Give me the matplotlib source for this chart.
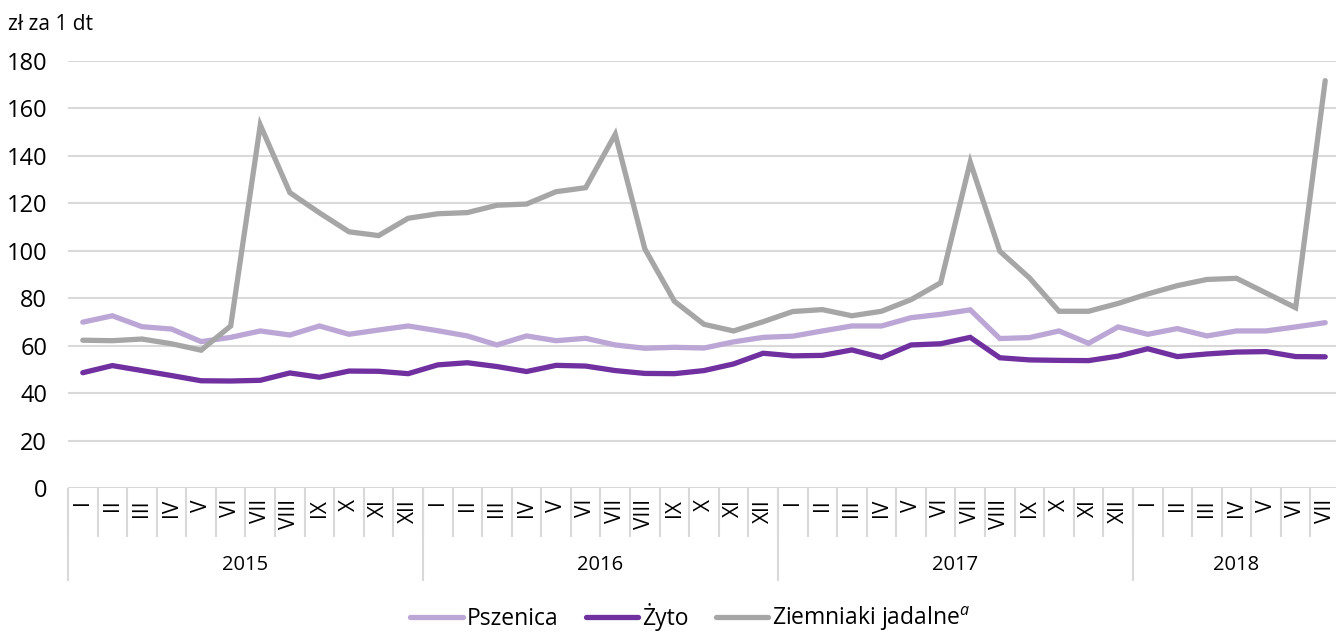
import numpy as np
import matplotlib
matplotlib.use("Agg")
import matplotlib.pyplot as plt

plt.rcParams['font.family'] = ['Open Sans', 'DejaVu Sans']
plt.rcParams['mathtext.fontset'] = 'custom'
plt.rcParams['mathtext.it'] = 'Open Sans:italic'
plt.rcParams['mathtext.rm'] = 'Open Sans'

# monthly prices, zl per dt, I 2015 - VII 2018
pszenica = [69.9, 72.6, 68.0, 67.0, 61.7, 63.5, 66.2, 64.5, 68.3, 64.8, 66.6, 68.3,
            66.3, 64.1, 60.3, 64.1, 62.1, 63.1, 60.3, 58.9, 59.3, 59.0, 61.6, 63.5,
            64.0, 66.2, 68.3, 68.3, 71.8, 73.2, 75.1, 63.0, 63.4, 66.2, 61.0, 67.9,
            64.8, 67.2, 64.1, 66.2, 66.2, 67.9, 69.7]
zyto = [48.6, 51.6, 49.5, 47.4, 45.2, 45.1, 45.4, 48.5, 46.7, 49.3, 49.2, 48.2,
        51.9, 52.8, 51.2, 49.1, 51.7, 51.4, 49.5, 48.3, 48.2, 49.5, 52.3, 56.8,
        55.7, 55.9, 58.2, 55.0, 60.3, 60.8, 63.5, 54.9, 54.0, 53.8, 53.7, 55.6,
        58.7, 55.4, 56.5, 57.3, 57.5, 55.4, 55.3]
ziemniaki = [62.3, 62.1, 62.8, 60.8, 58.1, 68.3, 153.0, 124.5, 116.0, 108.0, 106.4, 113.7,
             115.6, 116.1, 119.2, 119.7, 124.9, 126.6, 149.1, 100.8, 78.7, 69.0, 66.2, 70.1,
             74.4, 75.2, 72.6, 74.5, 79.4, 86.5, 137.4, 99.8, 88.6, 74.5, 74.5, 77.8,
             81.8, 85.3, 87.9, 88.4, 82.2, 76.0, 171.7]

roman = ["I", "II", "III", "IV", "V", "VI", "VII", "VIII", "IX", "X", "XI", "XII"]
years = ["2015", "2016", "2017", "2018"]
months_per_year = [12, 12, 12, 7]
month_labels = [roman[m] for n in months_per_year for m in range(n)]

c_psz = "#BBA6D6"
c_zyto = "#7030A0"
c_ziem = "#A6A6A6"
grid_c = "#D9D9D9"

W, H = 1336, 632
fig = plt.figure(figsize=(W / 100, H / 100), dpi=100)
ax_left, ax_right, ax_top, ax_bot = 68, 1340, 61, 488
ax = fig.add_axes([ax_left / W, 1 - ax_bot / H, (ax_right - ax_left) / W, (ax_bot - ax_top) / H])

x = np.arange(len(pszenica))
ax.plot(x, pszenica, color=c_psz, lw=3.8, solid_capstyle='round', solid_joinstyle='miter', label="Pszenica", zorder=3)
ax.plot(x, zyto, color=c_zyto, lw=3.8, solid_capstyle='round', solid_joinstyle='miter', label="Żyto", zorder=3)
ax.plot(x, ziemniaki, color=c_ziem, lw=3.8, solid_capstyle='round', solid_joinstyle='miter',
        label="Ziemniaki jadalne$^{a}$", zorder=3)

ax.set_xlim(-0.5, len(x) - 0.5)
ax.set_ylim(0, 180)
ax.set_yticks(range(0, 181, 20))
ax.yaxis.grid(True, color=grid_c, lw=1.5)
ax.set_axisbelow(True)
for s in ax.spines.values():
    s.set_visible(False)
ax.tick_params(axis='y', length=0, pad=15, labelsize=17, labelcolor="#000000")

ax.set_xticks(x)
ax.set_xticklabels(month_labels, rotation=90, fontsize=15, va='top')
ax.tick_params(axis='x', length=0, pad=8)

# separators under the axis
axh = ax_bot - ax_top
trans = ax.get_xaxis_transform()
bounds = np.arange(len(x) + 1) - 0.5
ax.vlines(bounds, -49 / axh, 0, color=grid_c, lw=1.5, transform=trans, clip_on=False)
starts = np.concatenate([[0], np.cumsum(months_per_year)]) - 0.5
ax.vlines(starts, -93 / axh, 0, color=grid_c, lw=1.5, transform=trans, clip_on=False)
for i, yr in enumerate(years):
    mid = (starts[i] + starts[i + 1]) / 2
    ax.text(mid, -(565 - ax_bot) / axh, yr, transform=trans, ha='center', va='center', fontsize=14.5)

fig.text(8 / W, 1 - 25 / H, "zł za 1 dt", ha='left', va='center', fontsize=15)

fig.legend(loc='center', bbox_to_anchor=(690 / W, 1 - 618 / H), ncol=3, frameon=False,
           fontsize=16.5, handlelength=2.3, handletextpad=0.15, columnspacing=1.2)

fig.savefig("out.png", dpi=100)
